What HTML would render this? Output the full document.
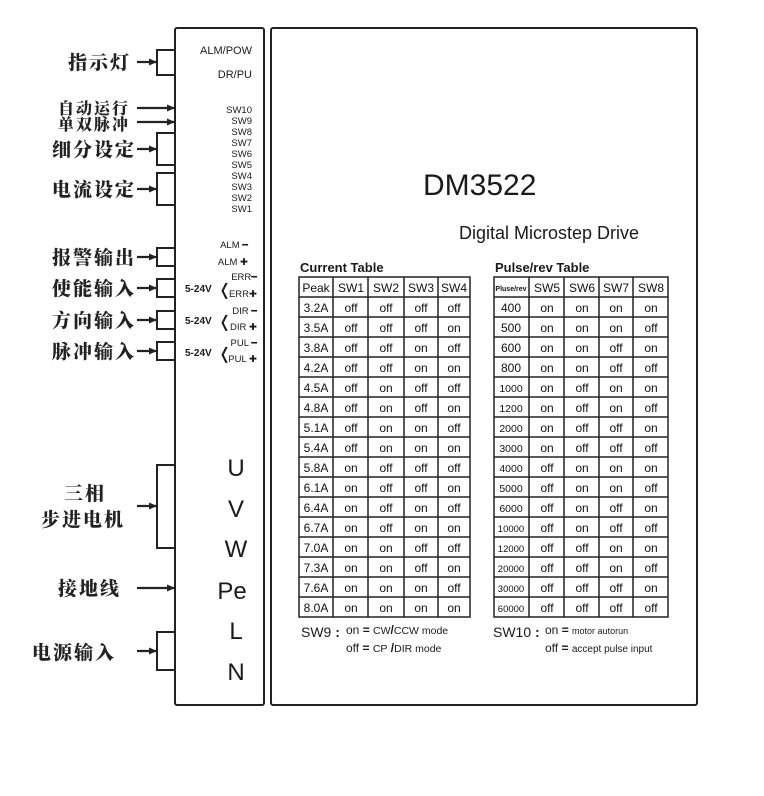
<!DOCTYPE html>
<html><head><meta charset="utf-8"><style>
html,body{margin:0;padding:0;background:#fff;}
svg{display:block;}
.cn{font-family:"Noto Serif CJK SC","Noto Sans CJK SC",serif;font-weight:900;fill:#222;letter-spacing:2px;}
.la{font-family:"Liberation Sans",sans-serif;fill:#1a1a1a;}
.t{font-family:"Liberation Sans",sans-serif;font-size:12px;fill:#111;text-anchor:middle;}
</style></head><body>
<svg width="764" height="796" viewBox="0 0 764 796" xmlns="http://www.w3.org/2000/svg">
<defs><marker id="ah" markerWidth="8" markerHeight="8" refX="7" refY="4" orient="auto" markerUnits="userSpaceOnUse"><path d="M0,0.5 L8,4 L0,7.5 Z" fill="#222"/></marker></defs>
<g fill="none" stroke="#222" stroke-width="2">
<rect x="175" y="28" width="89" height="677" rx="2"/>
<rect x="271" y="28" width="426" height="677" rx="2"/>
<polyline points="175,50 157,50 157,75 175,75"/>
<polyline points="175,133 157,133 157,165 175,165"/>
<polyline points="175,173 157,173 157,205 175,205"/>
<polyline points="175,248 157,248 157,266 175,266"/>
<polyline points="175,279 157,279 157,297 175,297"/>
<polyline points="175,311 157,311 157,329 175,329"/>
<polyline points="175,342 157,342 157,360 175,360"/>
<polyline points="175,465 157,465 157,548 175,548"/>
<polyline points="175,632 157,632 157,670 175,670"/>
<g stroke-width="2.2" marker-end="url(#ah)">
<line x1="137" y1="62" x2="156" y2="62"/>
<line x1="137" y1="149" x2="156" y2="149"/>
<line x1="137" y1="189" x2="156" y2="189"/>
<line x1="137" y1="257" x2="156" y2="257"/>
<line x1="137" y1="288" x2="156" y2="288"/>
<line x1="137" y1="320" x2="156" y2="320"/>
<line x1="137" y1="351" x2="156" y2="351"/>
<line x1="137" y1="506" x2="156" y2="506"/>
<line x1="137" y1="651" x2="156" y2="651"/>
<line x1="137" y1="108" x2="174" y2="108"/>
<line x1="137" y1="122" x2="174" y2="122"/>
<line x1="137" y1="588" x2="174" y2="588"/>
</g>
</g>
<g class="cn" font-size="19">
<text x="68" y="69">指示灯</text>
<text x="58" y="114" font-size="16">自动运行</text>
<text x="58" y="130" font-size="16">单双脉冲</text>
<text x="52" y="156">细分设定</text>
<text x="52" y="196">电流设定</text>
<text x="52" y="264">报警输出</text>
<text x="52" y="295">使能输入</text>
<text x="52" y="327">方向输入</text>
<text x="52" y="358">脉冲输入</text>
<text x="64" y="500">三相</text>
<text x="41" y="526">步进电机</text>
<text x="58" y="595">接地线</text>
<text x="32" y="659">电源输入</text>
</g>
<g class="la" font-size="11" text-anchor="end">
<text x="252" y="54">ALM/POW</text>
<text x="252" y="78">DR/PU</text>
<g font-size="9.5">
<text x="252" y="113">SW10</text><text x="252" y="124">SW9</text><text x="252" y="135">SW8</text><text x="252" y="146">SW7</text><text x="252" y="157">SW6</text><text x="252" y="168">SW5</text><text x="252" y="179">SW4</text><text x="252" y="190">SW3</text><text x="252" y="201">SW2</text><text x="252" y="212">SW1</text>
</g>
<g font-size="9.5">
<text x="248" y="248">ALM ━</text><text x="248" y="265">ALM ✚</text>
<text x="257" y="280">ERR━</text><text x="257" y="297">ERR✚</text>
<text x="257" y="314">DIR ━</text><text x="257" y="330">DIR ✚</text>
<text x="257" y="346">PUL ━</text><text x="257" y="362">PUL ✚</text>
</g>
</g>
<g class="la" font-size="10" font-weight="bold">
<text x="185" y="292">5-24V</text><text x="185" y="324">5-24V</text><text x="185" y="356">5-24V</text>
</g>
<g class="la" font-size="16"><text x="218" y="295">❬</text><text x="218" y="327">❬</text><text x="218" y="359">❬</text></g>
<g class="la" font-size="24" text-anchor="middle">
<text x="236" y="476">U</text><text x="236" y="517">V</text><text x="236" y="557">W</text><text x="232" y="599">Pe</text><text x="236" y="639">L</text><text x="236" y="680">N</text>
</g>
<text class="la" x="423" y="195" font-size="30">DM3522</text>
<text class="la" x="459" y="239" font-size="18">Digital Microstep Drive</text>
<text class="la" x="300" y="272" font-size="13" font-weight="bold">Current  Table</text>
<text class="la" x="495" y="272" font-size="13" font-weight="bold">Pulse/rev Table</text>
<g fill="none" stroke="#222" stroke-width="1.5">
<rect x="299" y="277" width="171" height="340"/>
<rect x="494" y="277" width="174" height="340"/>
<path d="M333,277V617M368,277V617M404,277V617M438,277V617M529,277V617M564,277V617M599,277V617M633,277V617"/>
<path d="M299,297H470M299,317H470M299,337H470M299,357H470M299,377H470M299,397H470M299,417H470M299,437H470M299,457H470M299,477H470M299,497H470M299,517H470M299,537H470M299,557H470M299,577H470M299,597H470"/>
<path d="M494,297H668M494,317H668M494,337H668M494,357H668M494,377H668M494,397H668M494,417H668M494,437H668M494,457H668M494,477H668M494,497H668M494,517H668M494,537H668M494,557H668M494,577H668M494,597H668"/>
</g>
<g class="t">
<text x="316" y="292">Peak</text><text x="351" y="292">SW1</text><text x="386" y="292">SW2</text><text x="421" y="292">SW3</text><text x="454" y="292">SW4</text>
<text x="511" y="291" font-size="7" font-weight="bold">Pluse/rev</text><text x="547" y="292">SW5</text><text x="582" y="292">SW6</text><text x="616" y="292">SW7</text><text x="651" y="292">SW8</text>
</g>
<g class="t" font-size="12">
<text x="316" y="312">3.2A</text><text x="351" y="312">off</text><text x="386" y="312">off</text><text x="421" y="312">off</text><text x="454" y="312">off</text>
<text x="316" y="332">3.5A</text><text x="351" y="332">off</text><text x="386" y="332">off</text><text x="421" y="332">off</text><text x="454" y="332">on</text>
<text x="316" y="352">3.8A</text><text x="351" y="352">off</text><text x="386" y="352">off</text><text x="421" y="352">on</text><text x="454" y="352">off</text>
<text x="316" y="372">4.2A</text><text x="351" y="372">off</text><text x="386" y="372">off</text><text x="421" y="372">on</text><text x="454" y="372">on</text>
<text x="316" y="392">4.5A</text><text x="351" y="392">off</text><text x="386" y="392">on</text><text x="421" y="392">off</text><text x="454" y="392">off</text>
<text x="316" y="412">4.8A</text><text x="351" y="412">off</text><text x="386" y="412">on</text><text x="421" y="412">off</text><text x="454" y="412">on</text>
<text x="316" y="432">5.1A</text><text x="351" y="432">off</text><text x="386" y="432">on</text><text x="421" y="432">on</text><text x="454" y="432">off</text>
<text x="316" y="452">5.4A</text><text x="351" y="452">off</text><text x="386" y="452">on</text><text x="421" y="452">on</text><text x="454" y="452">on</text>
<text x="316" y="472">5.8A</text><text x="351" y="472">on</text><text x="386" y="472">off</text><text x="421" y="472">off</text><text x="454" y="472">off</text>
<text x="316" y="492">6.1A</text><text x="351" y="492">on</text><text x="386" y="492">off</text><text x="421" y="492">off</text><text x="454" y="492">on</text>
<text x="316" y="512">6.4A</text><text x="351" y="512">on</text><text x="386" y="512">off</text><text x="421" y="512">on</text><text x="454" y="512">off</text>
<text x="316" y="532">6.7A</text><text x="351" y="532">on</text><text x="386" y="532">off</text><text x="421" y="532">on</text><text x="454" y="532">on</text>
<text x="316" y="552">7.0A</text><text x="351" y="552">on</text><text x="386" y="552">on</text><text x="421" y="552">off</text><text x="454" y="552">off</text>
<text x="316" y="572">7.3A</text><text x="351" y="572">on</text><text x="386" y="572">on</text><text x="421" y="572">off</text><text x="454" y="572">on</text>
<text x="316" y="592">7.6A</text><text x="351" y="592">on</text><text x="386" y="592">on</text><text x="421" y="592">on</text><text x="454" y="592">off</text>
<text x="316" y="612">8.0A</text><text x="351" y="612">on</text><text x="386" y="612">on</text><text x="421" y="612">on</text><text x="454" y="612">on</text>
</g>
<g class="t" font-size="12">
<text x="511" y="312">400</text><text x="547" y="312">on</text><text x="582" y="312">on</text><text x="616" y="312">on</text><text x="651" y="312">on</text>
<text x="511" y="332">500</text><text x="547" y="332">on</text><text x="582" y="332">on</text><text x="616" y="332">on</text><text x="651" y="332">off</text>
<text x="511" y="352">600</text><text x="547" y="352">on</text><text x="582" y="352">on</text><text x="616" y="352">off</text><text x="651" y="352">on</text>
<text x="511" y="372">800</text><text x="547" y="372">on</text><text x="582" y="372">on</text><text x="616" y="372">off</text><text x="651" y="372">off</text>
<text x="511" y="392" font-size="10.5">1000</text><text x="547" y="392">on</text><text x="582" y="392">off</text><text x="616" y="392">on</text><text x="651" y="392">on</text>
<text x="511" y="412" font-size="10.5">1200</text><text x="547" y="412">on</text><text x="582" y="412">off</text><text x="616" y="412">on</text><text x="651" y="412">off</text>
<text x="511" y="432" font-size="10.5">2000</text><text x="547" y="432">on</text><text x="582" y="432">off</text><text x="616" y="432">off</text><text x="651" y="432">on</text>
<text x="511" y="452" font-size="10.5">3000</text><text x="547" y="452">on</text><text x="582" y="452">off</text><text x="616" y="452">off</text><text x="651" y="452">off</text>
<text x="511" y="472" font-size="10.5">4000</text><text x="547" y="472">off</text><text x="582" y="472">on</text><text x="616" y="472">on</text><text x="651" y="472">on</text>
<text x="511" y="492" font-size="10.5">5000</text><text x="547" y="492">off</text><text x="582" y="492">on</text><text x="616" y="492">on</text><text x="651" y="492">off</text>
<text x="511" y="512" font-size="10.5">6000</text><text x="547" y="512">off</text><text x="582" y="512">on</text><text x="616" y="512">off</text><text x="651" y="512">on</text>
<text x="511" y="532" font-size="9.5">10000</text><text x="547" y="532">off</text><text x="582" y="532">on</text><text x="616" y="532">off</text><text x="651" y="532">off</text>
<text x="511" y="552" font-size="9.5">12000</text><text x="547" y="552">off</text><text x="582" y="552">off</text><text x="616" y="552">on</text><text x="651" y="552">on</text>
<text x="511" y="572" font-size="9.5">20000</text><text x="547" y="572">off</text><text x="582" y="572">off</text><text x="616" y="572">on</text><text x="651" y="572">off</text>
<text x="511" y="592" font-size="9.5">30000</text><text x="547" y="592">off</text><text x="582" y="592">off</text><text x="616" y="592">off</text><text x="651" y="592">on</text>
<text x="511" y="612" font-size="9.5">60000</text><text x="547" y="612">off</text><text x="582" y="612">off</text><text x="616" y="612">off</text><text x="651" y="612">off</text>
</g>
<g class="la">
<text x="301" y="637" font-size="14">SW9 <tspan font-weight="bold">:</tspan></text>
<text x="346" y="634" font-size="12">on <tspan font-weight="bold">=</tspan> <tspan font-size="10.5">CW</tspan><tspan font-weight="bold">/</tspan><tspan font-size="10.5">CCW mode</tspan></text>
<text x="346" y="652" font-size="12">off <tspan font-weight="bold">=</tspan> <tspan font-size="10.5">CP</tspan> <tspan font-weight="bold">/</tspan><tspan font-size="10.5">DIR   mode</tspan></text>
<text x="493" y="637" font-size="14">SW10 <tspan font-weight="bold">:</tspan></text>
<text x="545" y="634" font-size="12">on <tspan font-weight="bold">=</tspan> <tspan font-size="9">motor    autorun</tspan></text>
<text x="545" y="652" font-size="12">off <tspan font-weight="bold">=</tspan> <tspan font-size="10">accept  pulse  input</tspan></text>
</g>
</svg>
</body></html>
